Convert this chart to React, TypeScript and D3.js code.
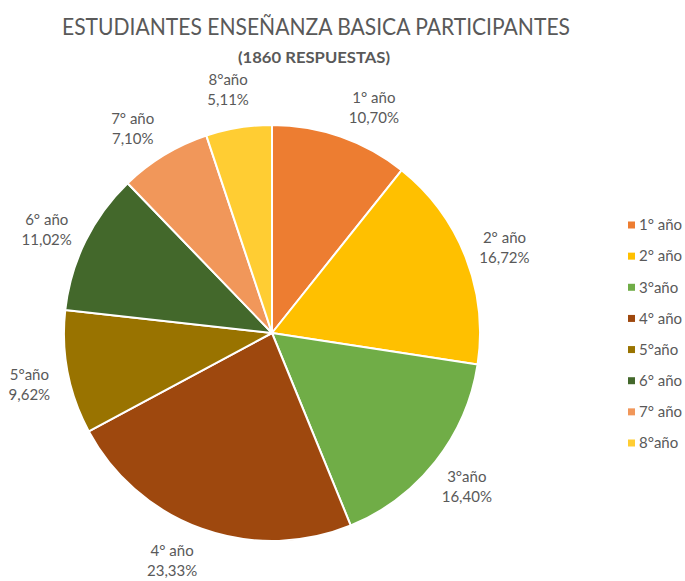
import React from "react";
import * as d3 from "d3";

const categories = ["1° año", "2° año", "3°año", "4° año", "5°año", "6° año", "7° año", "8°año"];
const values = [10.70, 16.72, 16.40, 23.33, 9.62, 11.02, 7.10, 5.11];
const valueLabels = ["10,70%", "16,72%", "16,40%", "23,33%", "9,62%", "11,02%", "7,10%", "5,11%"];
const colors = ["#ED7D31", "#FFC000", "#70AD47", "#9E480E", "#997300", "#43682B", "#F1975A", "#FFCD33"];
const title = "ESTUDIANTES ENSEÑANZA BASICA PARTICIPANTES";
const subtitle = "(1860 RESPUESTAS)";

// small angular nudges (degrees) mimicking the spreadsheet's best-fit label placement
const labelNudgeDeg = [5, 1, 0, 4, -1, -1.5, -3, -1];

const W = 685;
const H = 581;
const FONT = "Lato, 'Open Sans', sans-serif";

export default function App() {
  const cx = 272;
  const cy = 333;
  const r = 208;
  const labelR = 248;

  const pie = d3.pie<number>().sort(null).value((d) => d);
  const arcs = pie(values);
  const arc = d3.arc<d3.PieArcDatum<number>>().innerRadius(0).outerRadius(r);

  const legendY = d3.scalePoint<number>().domain(d3.range(categories.length)).range([225, 443]);

  return (
    <svg width={W} height={H} style={{ position: "absolute", left: 0, top: 0, background: "#fff" }} fontFamily={FONT}>
      <text x={316} y={35} textAnchor="middle" fontSize={23} fill="#595959" textLength={508} lengthAdjust="spacingAndGlyphs">
        {title}
      </text>
      <text x={314} y={63} textAnchor="middle" fontSize={16} fontWeight="bold" fill="#595959" textLength={152} lengthAdjust="spacingAndGlyphs">
        {subtitle}
      </text>
      <g transform={`translate(${cx},${cy})`}>
        {arcs.map((a, i) => (
          <path key={i} d={arc(a) || ""} fill={colors[i]} stroke="#fff" strokeWidth={2} strokeLinejoin="round" />
        ))}
        {arcs.map((a, i) => {
          const mid = (a.startAngle + a.endAngle) / 2 + (labelNudgeDeg[i] * Math.PI) / 180;
          const lx = labelR * Math.sin(mid);
          const ly = -labelR * Math.cos(mid);
          return (
            <text key={"l" + i} x={lx} y={ly} textAnchor="middle" fontSize={15} fill="#595959">
              <tspan x={lx} dy={-4}>{categories[i]}</tspan>
              <tspan x={lx} dy={20}>{valueLabels[i]}</tspan>
            </text>
          );
        })}
      </g>
      <g>
        {categories.map((c, i) => {
          const y = legendY(i) as number;
          return (
            <g key={"lg" + i}>
              <rect x={628} y={y - 3.5} width={7} height={7} fill={colors[i]} />
              <text x={639} y={y} dy="0.35em" fontSize={15} fill="#595959">
                {c}
              </text>
            </g>
          );
        })}
      </g>
    </svg>
  );
}
